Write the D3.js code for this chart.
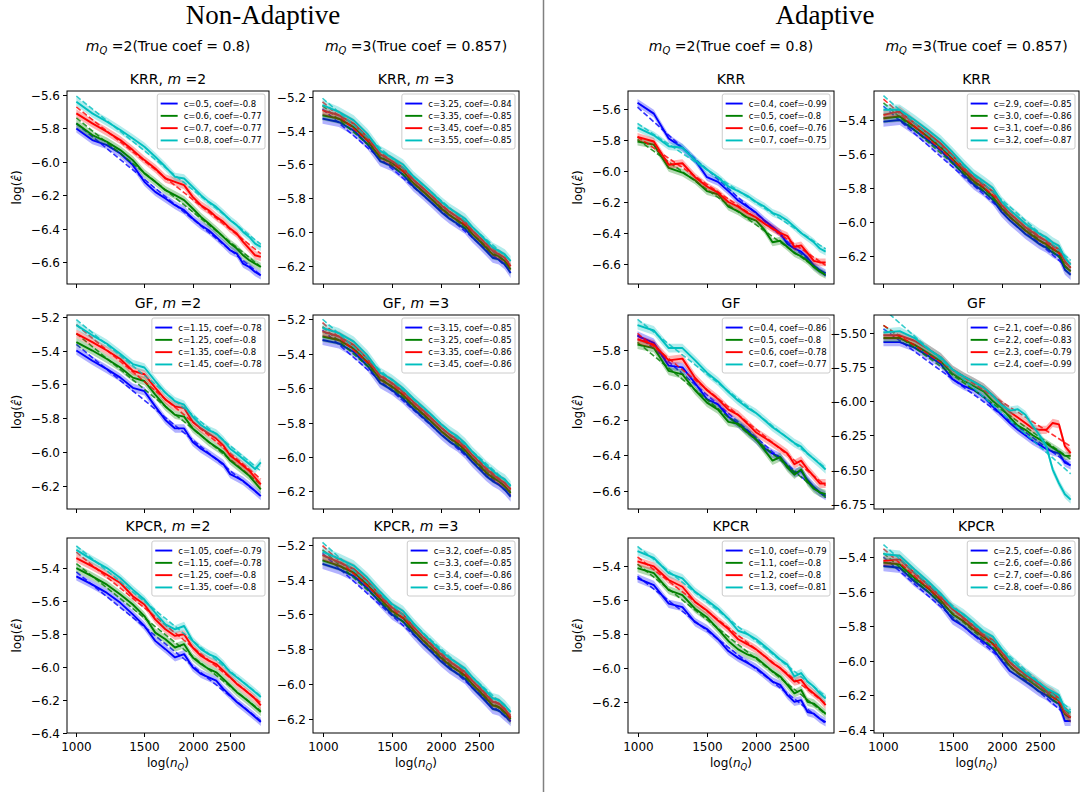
<!DOCTYPE html>
<html><head><meta charset="utf-8">
<script src="https://cdn.jsdelivr.net/npm/d3@7"></script>
<style>body{margin:0;background:#fff} svg{display:block} text{font-family:"DejaVu Sans",sans-serif;fill:#000}</style>
</head><body><svg id="c" width="1081" height="792"></svg>
<script>
// ---------------- data ----------------
const nQ = [1000,1100,1200,1300,1400,1500,1600,1700,1800,1900,2000,2100,2200,2300,2400,2500,2600,2700,2800,2900,3000];
const xTickVals = [1000,1500,2000,2500];
const seriesColors = ["#0000ff","#008000","#ff0000","#00bfbf"];

// Non-adaptive, KRR, m=2
const krrNA2 = [
 [-5.80,-5.87,-5.90,-5.95,-6.02,-6.12,-6.18,-6.22,-6.26,-6.29,-6.34,-6.38,-6.41,-6.45,-6.49,-6.53,-6.55,-6.61,-6.63,-6.66,-6.68],
 [-5.77,-5.84,-5.88,-5.93,-5.99,-6.07,-6.12,-6.17,-6.20,-6.23,-6.28,-6.33,-6.37,-6.41,-6.45,-6.49,-6.52,-6.56,-6.59,-6.61,-6.63],
 [-5.71,-5.77,-5.82,-5.87,-5.93,-5.99,-6.04,-6.10,-6.12,-6.14,-6.21,-6.26,-6.29,-6.33,-6.36,-6.40,-6.43,-6.48,-6.52,-6.56,-6.57],
 [-5.64,-5.71,-5.76,-5.81,-5.86,-5.91,-5.97,-6.03,-6.09,-6.10,-6.15,-6.20,-6.24,-6.27,-6.31,-6.35,-6.38,-6.42,-6.45,-6.49,-6.51]];
const krrNA2_c = ["0.5","0.6","0.7","0.8"];
const krrNA2_coef = ["-0.8","-0.77","-0.77","-0.77"];
const krrNA2_band = [0.025,0.025,0.025,0.025];
const krrNA2_yTicks = [-6.6,-6.4,-6.2,-6.0,-5.8,-5.6];

// Non-adaptive, KRR, m=3
const krrNA3 = [
 [-5.33,-5.35,-5.40,-5.48,-5.58,-5.61,-5.66,-5.73,-5.78,-5.83,-5.88,-5.92,-5.95,-5.98,-6.03,-6.07,-6.11,-6.15,-6.16,-6.19,-6.24],
 [-5.31,-5.33,-5.38,-5.46,-5.56,-5.59,-5.64,-5.71,-5.76,-5.81,-5.86,-5.90,-5.93,-5.96,-6.01,-6.05,-6.09,-6.13,-6.14,-6.17,-6.22],
 [-5.28,-5.31,-5.36,-5.44,-5.54,-5.58,-5.62,-5.69,-5.74,-5.79,-5.84,-5.88,-5.91,-5.94,-5.99,-6.03,-6.07,-6.11,-6.13,-6.15,-6.20],
 [-5.25,-5.29,-5.34,-5.42,-5.52,-5.56,-5.60,-5.67,-5.72,-5.77,-5.82,-5.86,-5.89,-5.92,-5.97,-6.01,-6.05,-6.09,-6.11,-6.13,-6.17]];
const krrNA3_c = ["3.25","3.35","3.45","3.55"];
const krrNA3_coef = ["-0.84","-0.85","-0.85","-0.85"];
const krrNA3_band = [0.03,0.03,0.03,0.03];
const krrNA3_yTicks = [-6.2,-6.0,-5.8,-5.6,-5.4,-5.2];

// Adaptive, KRR, m_Q=2
const krrA2 = [
 [-5.56,-5.63,-5.79,-5.85,-5.93,-6.04,-6.07,-6.13,-6.19,-6.23,-6.27,-6.32,-6.36,-6.40,-6.47,-6.50,-6.52,-6.56,-6.61,-6.64,-6.66],
 [-5.81,-5.83,-5.98,-6.01,-6.06,-6.13,-6.15,-6.23,-6.26,-6.30,-6.32,-6.38,-6.46,-6.45,-6.49,-6.53,-6.55,-6.58,-6.62,-6.65,-6.67],
 [-5.78,-5.81,-5.96,-5.95,-6.04,-6.10,-6.14,-6.20,-6.23,-6.27,-6.30,-6.34,-6.37,-6.40,-6.42,-6.49,-6.48,-6.53,-6.58,-6.59,-6.59],
 [-5.72,-5.77,-5.84,-5.85,-5.93,-5.99,-6.04,-6.10,-6.13,-6.16,-6.20,-6.23,-6.27,-6.29,-6.32,-6.36,-6.40,-6.43,-6.46,-6.50,-6.52]];
const krrA2_c = ["0.4","0.5","0.6","0.7"];
const krrA2_coef = ["-0.99","-0.8","-0.76","-0.75"];
const krrA2_band = [0.025,0.025,0.025,0.025];
const krrA2_yTicks = [-6.6,-6.4,-6.2,-6.0,-5.8,-5.6];

// Adaptive, KRR, m_Q=3
const krrA3 = [
 [-5.41,-5.40,-5.46,-5.52,-5.58,-5.65,-5.72,-5.78,-5.82,-5.87,-5.94,-5.99,-6.03,-6.07,-6.10,-6.13,-6.15,-6.18,-6.20,-6.28,-6.31],
 [-5.39,-5.38,-5.44,-5.50,-5.56,-5.63,-5.70,-5.76,-5.80,-5.85,-5.92,-5.97,-6.01,-6.05,-6.08,-6.11,-6.13,-6.16,-6.18,-6.26,-6.29],
 [-5.37,-5.35,-5.42,-5.48,-5.54,-5.61,-5.68,-5.74,-5.78,-5.82,-5.90,-5.95,-5.99,-6.03,-6.06,-6.09,-6.11,-6.14,-6.16,-6.23,-6.27],
 [-5.34,-5.34,-5.40,-5.46,-5.52,-5.59,-5.66,-5.72,-5.76,-5.80,-5.88,-5.93,-5.97,-6.01,-6.04,-6.07,-6.09,-6.12,-6.14,-6.21,-6.25]];
const krrA3_c = ["2.9","3.0","3.1","3.2"];
const krrA3_coef = ["-0.85","-0.86","-0.86","-0.87"];
const krrA3_band = [0.03,0.03,0.03,0.03];
const krrA3_yTicks = [-6.2,-6.0,-5.8,-5.6,-5.4];

// Non-adaptive, GF, m=2
const gfNA2 = [
 [-5.40,-5.46,-5.51,-5.56,-5.62,-5.64,-5.73,-5.81,-5.86,-5.86,-5.94,-5.98,-6.01,-6.04,-6.07,-6.13,-6.15,-6.17,-6.20,-6.23,-6.26],
 [-5.35,-5.40,-5.45,-5.50,-5.56,-5.58,-5.66,-5.73,-5.78,-5.79,-5.86,-5.90,-5.94,-5.97,-6.00,-6.05,-6.08,-6.11,-6.14,-6.18,-6.22],
 [-5.30,-5.35,-5.40,-5.45,-5.52,-5.54,-5.62,-5.69,-5.73,-5.74,-5.82,-5.86,-5.89,-5.92,-5.96,-6.02,-6.05,-6.08,-6.11,-6.15,-6.19],
 [-5.25,-5.31,-5.36,-5.42,-5.48,-5.50,-5.58,-5.65,-5.70,-5.72,-5.79,-5.84,-5.87,-5.89,-5.93,-5.98,-6.01,-6.04,-6.07,-6.10,-6.06]];
const gfNA2_c = ["1.15","1.25","1.35","1.45"];
const gfNA2_coef = ["-0.78","-0.8","-0.8","-0.78"];
const gfNA2_band = [0.025,0.025,0.025,0.025];
const gfNA2_yTicks = [-6.2,-6.0,-5.8,-5.6,-5.4,-5.2];

// Non-adaptive, GF, m=3
const gfNA3 = [
 [-5.32,-5.34,-5.39,-5.47,-5.57,-5.61,-5.66,-5.72,-5.77,-5.82,-5.87,-5.91,-5.94,-5.98,-6.03,-6.07,-6.11,-6.14,-6.16,-6.19,-6.23],
 [-5.30,-5.32,-5.37,-5.45,-5.55,-5.59,-5.64,-5.70,-5.75,-5.80,-5.85,-5.89,-5.92,-5.96,-6.01,-6.05,-6.09,-6.12,-6.14,-6.17,-6.21],
 [-5.27,-5.30,-5.35,-5.43,-5.53,-5.57,-5.62,-5.68,-5.73,-5.78,-5.83,-5.87,-5.90,-5.94,-5.99,-6.03,-6.07,-6.10,-6.13,-6.15,-6.19],
 [-5.25,-5.28,-5.33,-5.41,-5.51,-5.55,-5.60,-5.66,-5.71,-5.76,-5.81,-5.85,-5.88,-5.92,-5.97,-6.01,-6.05,-6.08,-6.11,-6.13,-6.17]];
const gfNA3_c = ["3.15","3.25","3.35","3.45"];
const gfNA3_coef = ["-0.85","-0.85","-0.86","-0.86"];
const gfNA3_band = [0.03,0.03,0.03,0.03];
const gfNA3_yTicks = [-6.2,-6.0,-5.8,-5.6,-5.4,-5.2];

// Adaptive, GF, m_Q=2
const gfA2 = [
 [-5.72,-5.76,-5.89,-5.90,-5.99,-6.08,-6.11,-6.18,-6.22,-6.26,-6.31,-6.36,-6.39,-6.41,-6.46,-6.50,-6.49,-6.54,-6.58,-6.61,-6.63],
 [-5.77,-5.79,-5.92,-5.94,-6.03,-6.10,-6.14,-6.21,-6.22,-6.27,-6.31,-6.37,-6.43,-6.41,-6.47,-6.51,-6.48,-6.55,-6.59,-6.61,-6.62],
 [-5.74,-5.77,-5.86,-5.85,-5.96,-6.03,-6.08,-6.14,-6.17,-6.22,-6.27,-6.30,-6.33,-6.36,-6.39,-6.45,-6.43,-6.48,-6.52,-6.56,-6.56],
 [-5.66,-5.69,-5.79,-5.79,-5.86,-5.93,-5.98,-6.04,-6.09,-6.13,-6.16,-6.20,-6.24,-6.27,-6.30,-6.33,-6.35,-6.39,-6.42,-6.45,-6.48]];
const gfA2_c = ["0.4","0.5","0.6","0.7"];
const gfA2_coef = ["-0.86","-0.8","-0.78","-0.77"];
const gfA2_band = [0.025,0.025,0.025,0.025];
const gfA2_yTicks = [-6.6,-6.4,-6.2,-6.0,-5.8];

// Adaptive, GF, m_Q=3
const gfA3 = [
 [-5.57,-5.57,-5.61,-5.67,-5.73,-5.84,-5.89,-5.92,-5.97,-6.04,-6.10,-6.16,-6.21,-6.25,-6.29,-6.32,-6.35,-6.37,-6.38,-6.45,-6.47],
 [-5.54,-5.54,-5.59,-5.65,-5.71,-5.80,-5.85,-5.89,-5.93,-6.00,-6.05,-6.12,-6.18,-6.21,-6.25,-6.28,-6.31,-6.34,-6.37,-6.40,-6.40],
 [-5.52,-5.52,-5.56,-5.62,-5.68,-5.77,-5.82,-5.86,-5.90,-5.96,-6.02,-6.08,-6.12,-6.16,-6.20,-6.21,-6.21,-6.16,-6.17,-6.33,-6.38],
 [-5.50,-5.49,-5.54,-5.62,-5.68,-5.77,-5.82,-5.86,-5.90,-5.96,-6.03,-6.07,-6.06,-6.10,-6.18,-6.25,-6.33,-6.50,-6.60,-6.68,-6.72]];
const gfA3_c = ["2.1","2.2","2.3","2.4"];
const gfA3_coef = ["-0.86","-0.83","-0.79","-0.99"];
const gfA3_band = [0.03,0.03,0.03,0.03];
const gfA3_yTicks = [-6.75,-6.5,-6.25,-6.0,-5.75,-5.5];

// Non-adaptive, KPCR, m=2
const kpcrNA2 = [
 [-5.45,-5.50,-5.55,-5.61,-5.68,-5.75,-5.84,-5.89,-5.94,-5.92,-6.00,-6.04,-6.06,-6.08,-6.13,-6.17,-6.21,-6.24,-6.27,-6.30,-6.33],
 [-5.40,-5.45,-5.50,-5.56,-5.62,-5.69,-5.79,-5.83,-5.88,-5.86,-5.94,-5.98,-6.01,-6.03,-6.07,-6.11,-6.15,-6.18,-6.21,-6.24,-6.27],
 [-5.34,-5.39,-5.44,-5.49,-5.57,-5.62,-5.71,-5.77,-5.81,-5.80,-5.88,-5.93,-5.96,-5.98,-6.02,-6.06,-6.10,-6.13,-6.16,-6.19,-6.23],
 [-5.29,-5.35,-5.40,-5.46,-5.53,-5.59,-5.67,-5.74,-5.77,-5.75,-5.84,-5.89,-5.92,-5.94,-5.98,-6.03,-6.06,-6.09,-6.12,-6.15,-6.18]];
const kpcrNA2_c = ["1.05","1.15","1.25","1.35"];
const kpcrNA2_coef = ["-0.79","-0.78","-0.8","-0.8"];
const kpcrNA2_band = [0.025,0.025,0.025,0.025];
const kpcrNA2_yTicks = [-6.4,-6.2,-6.0,-5.8,-5.6,-5.4];

// Non-adaptive, KPCR, m=3
const kpcrNA3 = [
 [-5.31,-5.34,-5.38,-5.45,-5.53,-5.60,-5.64,-5.71,-5.77,-5.82,-5.87,-5.91,-5.94,-5.97,-6.02,-6.06,-6.10,-6.14,-6.15,-6.18,-6.21],
 [-5.29,-5.32,-5.36,-5.43,-5.51,-5.58,-5.62,-5.69,-5.75,-5.80,-5.85,-5.89,-5.92,-5.95,-6.00,-6.04,-6.08,-6.12,-6.13,-6.16,-6.20],
 [-5.26,-5.30,-5.34,-5.41,-5.49,-5.56,-5.60,-5.67,-5.73,-5.78,-5.83,-5.87,-5.90,-5.93,-5.98,-6.02,-6.06,-6.10,-6.11,-6.14,-6.19],
 [-5.24,-5.28,-5.32,-5.39,-5.47,-5.54,-5.58,-5.65,-5.71,-5.76,-5.81,-5.85,-5.88,-5.91,-5.96,-6.00,-6.04,-6.08,-6.09,-6.12,-6.16]];
const kpcrNA3_c = ["3.2","3.3","3.4","3.5"];
const kpcrNA3_coef = ["-0.85","-0.85","-0.86","-0.86"];
const kpcrNA3_band = [0.03,0.03,0.03,0.03];
const kpcrNA3_yTicks = [-6.2,-6.0,-5.8,-5.6,-5.4,-5.2];

// Adaptive, KPCR, m_Q=2
const kpcrA2 = [
 [-5.47,-5.51,-5.62,-5.64,-5.73,-5.77,-5.83,-5.90,-5.94,-5.97,-6.00,-6.04,-6.08,-6.10,-6.16,-6.20,-6.19,-6.26,-6.27,-6.30,-6.32],
 [-5.41,-5.44,-5.54,-5.57,-5.65,-5.70,-5.77,-5.84,-5.89,-5.92,-5.94,-5.98,-6.02,-6.05,-6.10,-6.15,-6.13,-6.20,-6.21,-6.24,-6.27],
 [-5.37,-5.40,-5.48,-5.52,-5.61,-5.66,-5.72,-5.77,-5.83,-5.86,-5.89,-5.93,-5.97,-6.00,-6.04,-6.08,-6.07,-6.12,-6.15,-6.18,-6.22],
 [-5.31,-5.35,-5.44,-5.47,-5.55,-5.60,-5.65,-5.71,-5.78,-5.80,-5.83,-5.87,-5.91,-5.95,-5.98,-6.05,-6.03,-6.08,-6.11,-6.15,-6.18]];
const kpcrA2_c = ["1.0","1.1","1.2","1.3"];
const kpcrA2_coef = ["-0.79","-0.8","-0.8","-0.81"];
const kpcrA2_band = [0.025,0.025,0.025,0.025];
const kpcrA2_yTicks = [-6.2,-6.0,-5.8,-5.6,-5.4];

// Adaptive, KPCR, m_Q=3
const kpcrA3 = [
 [-5.45,-5.46,-5.54,-5.60,-5.67,-5.76,-5.80,-5.85,-5.89,-5.93,-6.00,-6.06,-6.09,-6.12,-6.15,-6.18,-6.20,-6.23,-6.25,-6.35,-6.35],
 [-5.43,-5.44,-5.52,-5.58,-5.65,-5.73,-5.77,-5.82,-5.86,-5.90,-5.97,-6.03,-6.07,-6.10,-6.13,-6.16,-6.18,-6.21,-6.23,-6.31,-6.33],
 [-5.42,-5.41,-5.49,-5.56,-5.63,-5.70,-5.75,-5.80,-5.85,-5.88,-5.95,-6.01,-6.05,-6.08,-6.11,-6.14,-6.17,-6.19,-6.22,-6.30,-6.33],
 [-5.38,-5.39,-5.47,-5.54,-5.61,-5.69,-5.73,-5.78,-5.83,-5.86,-5.93,-5.99,-6.03,-6.07,-6.10,-6.13,-6.16,-6.18,-6.20,-6.28,-6.30]];
const kpcrA3_c = ["2.5","2.6","2.7","2.8"];
const kpcrA3_coef = ["-0.86","-0.86","-0.86","-0.86"];
const kpcrA3_band = [0.03,0.03,0.03,0.03];
const kpcrA3_yTicks = [-6.4,-6.2,-6.0,-5.8,-5.6,-5.4];

// ---------------- layout ----------------
const W = 1081, H = 792;
const colX = [[67,269],[313,519],[628,834],[874,1079]];
const rowY = [[91,284],[315,509],[538,733]];
const xDomain = [946, 3150];

const panels = [
 {row:0,col:0,method:"KRR",m:"2",s:krrNA2,c:krrNA2_c,coef:krrNA2_coef,band:krrNA2_band,yt:krrNA2_yTicks,yd:[-6.732,-5.576]},
 {row:0,col:1,method:"KRR",m:"3",s:krrNA3,c:krrNA3_c,coef:krrNA3_coef,band:krrNA3_band,yt:krrNA3_yTicks,yd:[-6.305,-5.167]},
 {row:0,col:2,method:"KRR",m:null,s:krrA2,c:krrA2_c,coef:krrA2_coef,band:krrA2_band,yt:krrA2_yTicks,yd:[-6.729,-5.484]},
 {row:0,col:3,method:"KRR",m:null,s:krrA3,c:krrA3_c,coef:krrA3_coef,band:krrA3_band,yt:krrA3_yTicks,yd:[-6.364,-5.23]},
 {row:1,col:0,method:"GF",m:"2",s:gfNA2,c:gfNA2_c,coef:gfNA2_coef,band:gfNA2_band,yt:gfNA2_yTicks,yd:[-6.336,-5.19]},
 {row:1,col:1,method:"GF",m:"3",s:gfNA3,c:gfNA3_c,coef:gfNA3_coef,band:gfNA3_band,yt:gfNA3_yTicks,yd:[-6.302,-5.175]},
 {row:1,col:2,method:"GF",m:null,s:gfA2,c:gfA2_c,coef:gfA2_coef,band:gfA2_band,yt:gfA2_yTicks,yd:[-6.705,-5.602]},
 {row:1,col:3,method:"GF",m:null,s:gfA3,c:gfA3_c,coef:gfA3_coef,band:gfA3_band,yt:gfA3_yTicks,yd:[-6.788,-5.372]},
 {row:2,col:0,method:"KPCR",m:"2",s:kpcrNA2,c:kpcrNA2_c,coef:kpcrNA2_coef,band:kpcrNA2_band,yt:kpcrNA2_yTicks,yd:[-6.397,-5.218]},
 {row:2,col:1,method:"KPCR",m:"3",s:kpcrNA3,c:kpcrNA3_c,coef:kpcrNA3_coef,band:kpcrNA3_band,yt:kpcrNA3_yTicks,yd:[-6.279,-5.162]},
 {row:2,col:2,method:"KPCR",m:null,s:kpcrA2,c:kpcrA2_c,coef:kpcrA2_coef,band:kpcrA2_band,yt:kpcrA2_yTicks,yd:[-6.384,-5.232]},
 {row:2,col:3,method:"KPCR",m:null,s:kpcrA3,c:kpcrA3_c,coef:kpcrA3_coef,band:kpcrA3_band,yt:kpcrA3_yTicks,yd:[-6.42,-5.287]},
];

const svg = d3.select("#c");
svg.append("rect").attr("width",W).attr("height",H).attr("fill","#fff");
const defs = svg.append("defs");

// group titles
svg.append("text").attr("x",263).attr("y",24).attr("text-anchor","middle")
  .style("font-family","'Liberation Serif','DejaVu Serif',serif").style("font-size","27px").text("Non-Adaptive");
svg.append("text").attr("x",825).attr("y",24).attr("text-anchor","middle")
  .style("font-family","'Liberation Serif','DejaVu Serif',serif").style("font-size","27px").text("Adaptive");
svg.append("line").attr("x1",543.5).attr("x2",543.5).attr("y1",0).attr("y2",H).attr("stroke","#808080").attr("stroke-width",1.5);

// column headers
const headerVals = [["2","0.8"],["3","0.857"],["2","0.8"],["3","0.857"]];
headerVals.forEach((h,ci)=>{
  const cx = (colX[ci][0]+colX[ci][1])/2;
  const t = svg.append("text").attr("x",cx).attr("y",51).attr("text-anchor","middle").style("font-size","14px");
  t.append("tspan").style("font-style","italic").text("m");
  t.append("tspan").attr("dy",3).style("font-size","10px").style("font-style","italic").text("Q");
  t.append("tspan").attr("dy",-3).text(` =${h[0]}(True coef = ${h[1]})`);
});

const fmt1 = d3.format(".1f"), fmt2 = d3.format(".2f");
const measurer = svg.append("text").style("font-size","8.5px").attr("visibility","hidden");
function textW(s){ measurer.text(s); return measurer.node().getComputedTextLength(); }

panels.forEach((p,pi)=>{
  const [x0,x1] = colX[p.col], [y0,y1] = rowY[p.row];
  const x = d3.scaleLog().domain(xDomain).range([x0,x1]);
  const y = d3.scaleLinear().domain(p.yd).range([y1,y0]);
  const g = svg.append("g");
  const cid = "clip"+pi;
  defs.append("clipPath").attr("id",cid).append("rect").attr("x",x0).attr("y",y0).attr("width",x1-x0).attr("height",y1-y0);
  const dg = g.append("g").attr("clip-path",`url(#${cid})`);
  const line = d3.line().x(d=>x(d.n)).y(d=>y(d.v));
  const area = d3.area().x(d=>x(d.n)).y0(d=>y(d.v-d.b)).y1(d=>y(d.v+d.b));
  p.s.forEach((vals,i)=>{
    const pts = nQ.map((n,k)=>({n, v:vals[k], b:p.band[i]}));
    dg.append("path").attr("d",area(pts)).attr("fill",seriesColors[i]).attr("fill-opacity",0.3);
    dg.append("path").attr("d",line(pts)).attr("fill","none").attr("stroke",seriesColors[i]).attr("stroke-width",1.9).attr("stroke-linejoin","round");
    // least-squares fit of log error on log n
    const lx = nQ.map(n=>Math.log(n));
    const mx = d3.mean(lx), my = d3.mean(vals);
    const sxy = d3.sum(lx.map((u,k)=>(u-mx)*(vals[k]-my))), sxx = d3.sum(lx.map(u=>(u-mx)*(u-mx)));
    const slope = sxy/sxx;
    const fit = nQ.map(n=>({n, v: my + slope*(Math.log(n)-mx)}));
    dg.append("path").attr("d",line(fit)).attr("fill","none").attr("stroke",seriesColors[i])
      .attr("stroke-width",1.6).attr("stroke-dasharray","5.5,2.5").attr("stroke-opacity",0.8);
  });
  // frame
  g.append("rect").attr("x",x0).attr("y",y0).attr("width",x1-x0).attr("height",y1-y0)
    .attr("fill","none").attr("stroke","#000").attr("stroke-width",1);
  // x ticks
  xTickVals.forEach(v=>{
    const xx = Math.round(x(v))+0.5;
    g.append("line").attr("x1",xx).attr("x2",xx).attr("y1",y1).attr("y2",y1+4).attr("stroke","#000").attr("stroke-width",1);
    if (p.row===2) g.append("text").attr("x",xx).attr("y",y1+18).attr("text-anchor","middle").style("font-size","12px").text(v);
  });
  // y ticks
  const two = p.yt.some(t=>Math.abs(t*10-Math.round(t*10))>1e-6);
  p.yt.forEach(v=>{
    const yy = Math.round(y(v))+0.5;
    g.append("line").attr("x1",x0-4).attr("x2",x0).attr("y1",yy).attr("y2",yy).attr("stroke","#000").attr("stroke-width",1);
    g.append("text").attr("x",x0-7).attr("y",yy).attr("dy","0.36em").attr("text-anchor","end").style("font-size","12px").text(two?fmt2(v):fmt1(v));
  });
  // title
  const tt = g.append("text").attr("x",(x0+x1)/2).attr("y",y0-7).attr("text-anchor","middle").style("font-size","14px");
  if (p.m) { tt.append("tspan").text(p.method+", "); tt.append("tspan").style("font-style","italic").text("m"); tt.append("tspan").text(" ="+p.m); }
  else tt.text(p.method);
  // y label
  if (p.col===0 || p.col===2){
    const yl = g.append("text").attr("transform",`translate(${x0-46},${(y0+y1)/2}) rotate(-90)`).attr("text-anchor","middle").style("font-size","12px");
    yl.append("tspan").text("log(");
    yl.append("tspan").style("font-style","italic").text("\u03B5\u0302");
    yl.append("tspan").text(")");
  }
  // x label
  if (p.row===2){
    const xl = g.append("text").attr("x",(x0+x1)/2).attr("y",y1+34).attr("text-anchor","middle").style("font-size","12px");
    xl.append("tspan").text("log(");
    xl.append("tspan").style("font-style","italic").text("n");
    xl.append("tspan").attr("dy",3).style("font-size","8.5px").style("font-style","italic").text("Q");
    xl.append("tspan").attr("dy",-3).text(")");
  }
  // legend
  const labels = p.c.map((c,i)=>`c=${c}, coef=${p.coef[i]}`);
  const tw = d3.max(labels, textW);
  const pad = 3.4, hl = 17, hp = 6, rowH = 12.3;
  const lw = pad*2 + hl + hp + tw, lh = pad*2 + rowH*4 - 1;
  const lx0 = x1 - 4 - lw, ly0 = y0 + 3;
  const lg = g.append("g");
  lg.append("rect").attr("x",lx0).attr("y",ly0).attr("width",lw).attr("height",lh).attr("rx",2)
    .attr("fill","#fff").attr("fill-opacity",0.8).attr("stroke","#cccccc").attr("stroke-width",1);
  labels.forEach((lab,i)=>{
    const cy = ly0 + pad + rowH*i + rowH/2;
    lg.append("line").attr("x1",lx0+pad).attr("x2",lx0+pad+hl).attr("y1",cy).attr("y2",cy).attr("stroke",seriesColors[i]).attr("stroke-width",1.9);
    lg.append("text").attr("x",lx0+pad+hl+hp).attr("y",cy).attr("dy","0.35em").style("font-size","8.5px").text(lab);
  });
});
measurer.remove();
</script></body></html>
